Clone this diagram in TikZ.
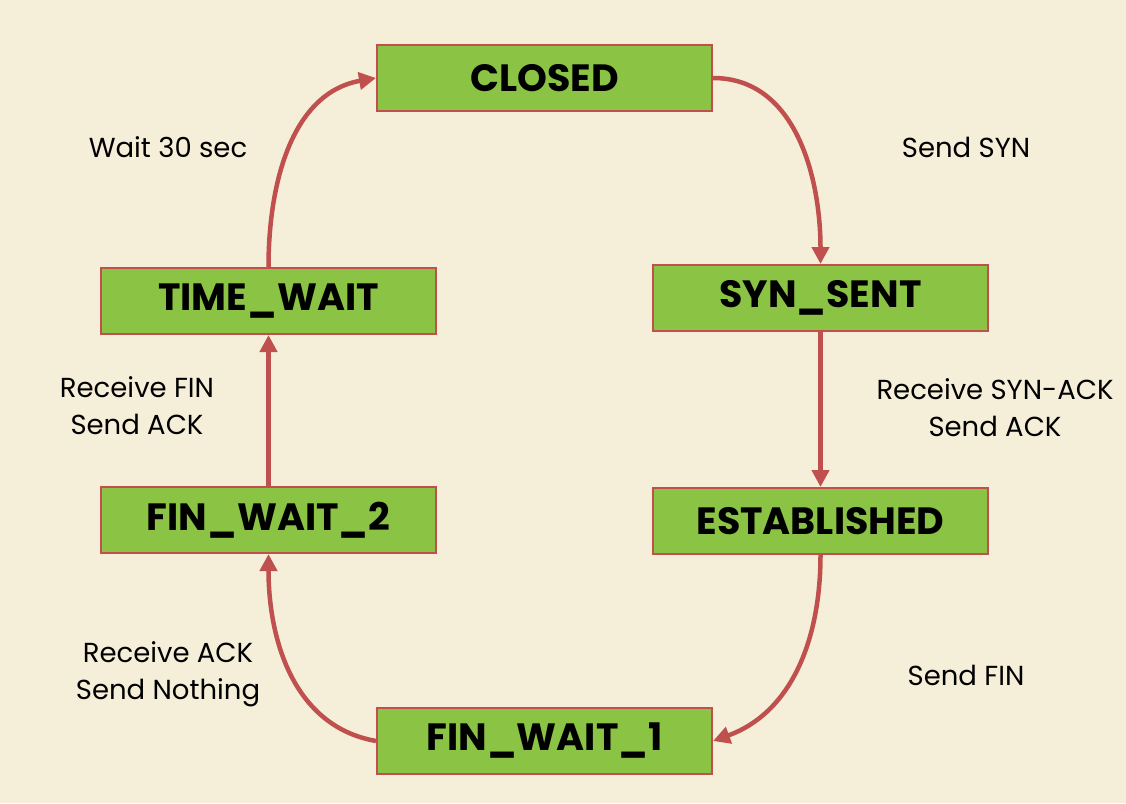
\documentclass[tikz,border=0pt]{standalone}
\usepackage{fontspec}
\setmainfont{Poppins}
\usetikzlibrary{arrows.meta}
\definecolor{bgc}{HTML}{F5EFD9}
\definecolor{boxg}{HTML}{8BC444}
\definecolor{redc}{HTML}{C0504D}
\begin{document}
\begin{tikzpicture}[x=1pt,y=-1pt,
  state/.style={draw=redc,line width=2pt,fill=boxg,minimum width=335pt,minimum height=66pt,inner sep=0pt,font=\fontsize{38}{40}\selectfont\bfseries},
  lbl/.style={align=center,font=\fontsize{27.5}{37}\selectfont},
  trans/.style={draw=redc,line width=4.5pt,-{Triangle[length=17pt,width=17pt]}}]
\fill[bgc] (0,0) rectangle (1126,803);
\useasboundingbox (0,0) rectangle (1126,803);
\node[state] (closed) at (544.5,78) {CLOSED};
\node[state] (synsent) at (820.5,298) {SYN\_SENT};
\node[state] (est) at (820.5,521) {ESTABLISHED};
\node[state] (fw1) at (544.5,741) {FIN\_WAIT\_1};
\node[state] (fw2) at (268.5,520) {FIN\_WAIT\_2};
\node[state] (tw) at (268.5,301) {TIME\_WAIT};
\draw[trans] (closed.east) to[out=0,in=90] (synsent.north);
\draw[trans] (synsent.south) -- (est.north);
\draw[trans] (est.south) to[out=-90,in=20] (fw1.east);
\draw[trans] (fw1.west) to[out=170,in=-90] (fw2.south);
\draw[trans] (fw2.north) -- (tw.south);
\draw[trans] (tw.north) to[out=90,in=190] (closed.west);
\node[lbl] (l1) at (168,147) {Wait 30 sec};
\node[lbl] (l2) at (966,147) {Send SYN};
\node[lbl] (l3) at (995,408) {Receive SYN-ACK\\Send ACK};
\node[lbl] (l4) at (137,406) {Receive FIN\\Send ACK};
\node[lbl] (l5) at (168,674) {Receive ACK\\Send Nothing};
\node[lbl] (l6) at (966,675) {Send FIN};
\end{tikzpicture}
\end{document}
